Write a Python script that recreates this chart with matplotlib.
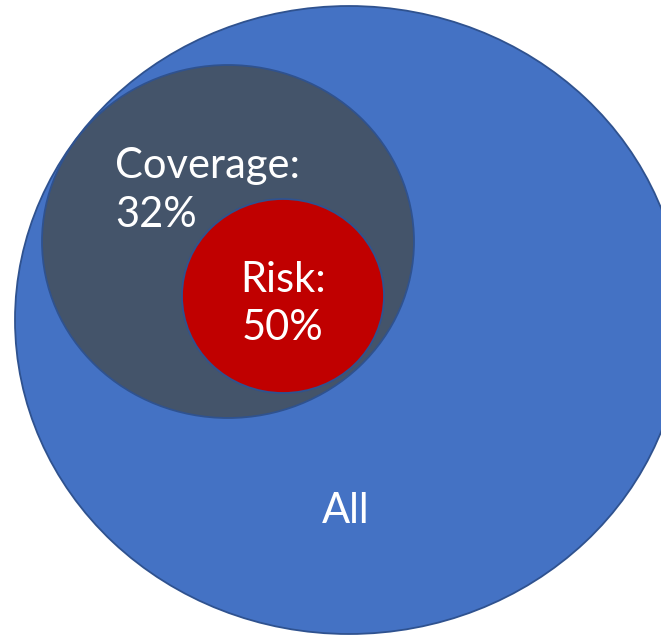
import matplotlib
matplotlib.use("Agg")
import matplotlib.pyplot as plt
from matplotlib.patches import Ellipse

# Nested sets: label and share shown for each region
labels = ["All", "Coverage:", "Risk:"]
shares = [None, 32, 50]
fills = ["#4472C4", "#44546A", "#C00000"]
edge = "#2F528F"

W, H = 661, 635
fig = plt.figure(figsize=(W / 100, H / 100), dpi=100)
ax = fig.add_axes([0, 0, 1, 1])
ax.set_xlim(0, W)
ax.set_ylim(H, 0)
ax.set_aspect("equal")
ax.axis("off")

# geometry of the three sets (pixel layout)
shapes = [
    dict(center=(349, 320), w=668, h=628),
    dict(center=(228, 241.5), w=372, h=353),
    dict(center=(283, 296), w=202, h=194),
]
for shp, fc in zip(shapes, fills):
    ax.add_patch(Ellipse(shp["center"], shp["w"], shp["h"], facecolor=fc,
                         edgecolor=edge, linewidth=1.3))

font = dict(family=["Lato", "DejaVu Sans"], color="white", fontsize=30)

def text_for(i):
    if shares[i] is None:
        return labels[i]
    return f"{labels[i]}\n{shares[i]}%"

ax.text(346, 523, text_for(0), ha="center", va="baseline", **font)
ax.text(115, 227, text_for(1), ha="left", va="baseline", linespacing=1.37, **font)
ax.text(283, 340, text_for(2), ha="center", va="baseline", linespacing=1.33,
        multialignment="center", **font)

fig.savefig("out.png", dpi=100)
